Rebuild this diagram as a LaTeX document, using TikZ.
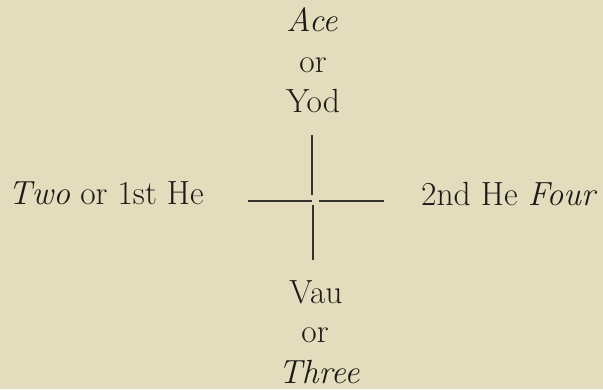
\documentclass[tikz,border=0pt]{standalone}
\definecolor{paper}{RGB}{227,221,190}
\definecolor{ink}{RGB}{30,27,22}
\begin{document}
\begin{tikzpicture}[x=1pt,y=-1pt,
  lbl/.style={inner sep=0pt,anchor=base,text=ink,font=\fontsize{33.5}{38}\selectfont},
  lblw/.style={lbl,anchor=base west},
  bar/.style={draw=ink!90,line width=1.1pt}]
\fill[paper] (0,0) rectangle (603,389);
\useasboundingbox (0,0) rectangle (603,389);
\node[lbl] (ace) at (312,31) {\textit{Ace}};
\node[lbl] (or1) at (313,72) {or};
\node[lbl] (yod) at (313,112) {Yod};
\node[lbl] (vau) at (316,303) {Vau};
\node[lbl] (or2) at (315,342) {or};
\node[lbl] (three) at (319,383) {\textit{Three}};
\node[lblw] (two) at (8,204) {\textit{Two} or 1st He};
\node[lblw] (four) at (421,205) {2nd He \textit{Four}};
\coordinate (vt) at (312,135);
\coordinate (vtb) at (312,195);
\coordinate (vbt) at (313,205);
\coordinate (vb) at (313,260);
\coordinate (hl) at (248,201);
\coordinate (hlr) at (312,201);
\coordinate (hrl) at (319,201);
\coordinate (hr) at (384,201);
\draw[bar] (vt) -- (vtb);
\draw[bar] (vbt) -- (vb);
\draw[bar] (hl) -- (hlr);
\draw[bar] (hrl) -- (hr);
\end{tikzpicture}
\end{document}
